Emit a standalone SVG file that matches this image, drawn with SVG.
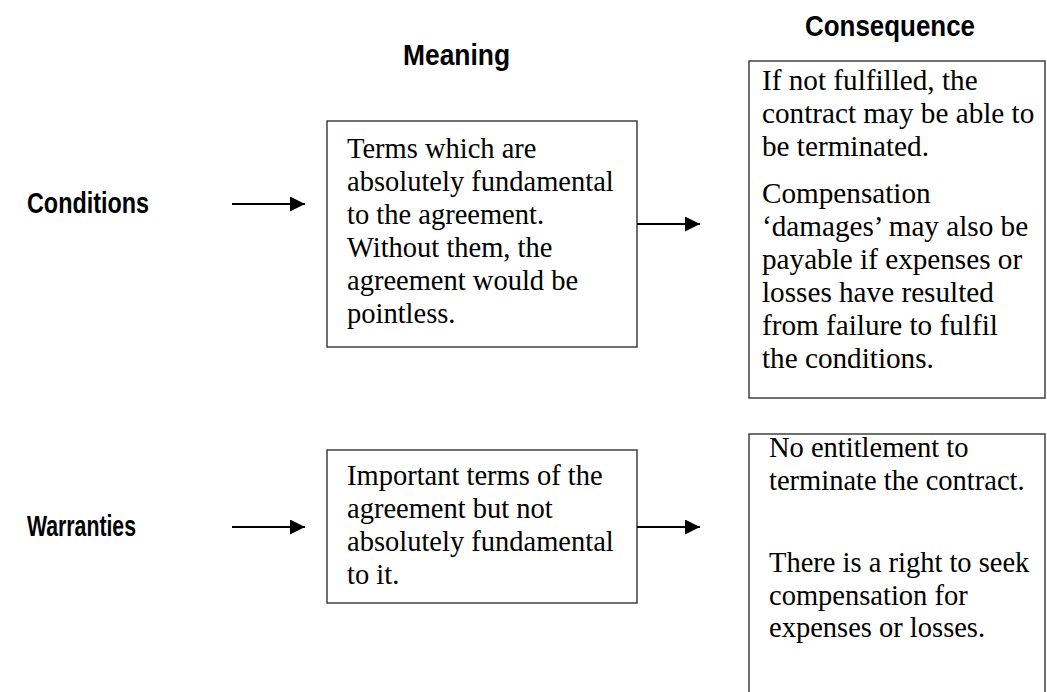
<svg xmlns="http://www.w3.org/2000/svg" width="1047" height="692" viewBox="0 0 1047 692">
<style>
.hd{font-family:"Liberation Sans",Arial,sans-serif;font-weight:bold;font-size:29px;fill:#000}
.tx{font-family:"Liberation Serif","Times New Roman",serif;font-size:28.5px;fill:#000}
.tx2{font-family:"Liberation Serif","Times New Roman",serif;font-size:29.2px;fill:#000}
.box{fill:#fff;stroke:#404040;stroke-width:1.5}
.arr{stroke:#000;stroke-width:2;fill:none;marker-end:url(#ah)}
</style>
<defs>
<marker id="ah" viewBox="0 0 14 14" refX="14" refY="7" markerWidth="15" markerHeight="15" markerUnits="userSpaceOnUse" orient="auto">
<path d="M0,0 L14,7 L0,14 Z" fill="#000"/>
</marker>
</defs>
<rect width="1047" height="692" fill="#fff"/>
<g id="headers">
<text class="hd" x="403" y="65" textLength="107" lengthAdjust="spacingAndGlyphs">Meaning</text>
<text class="hd" x="805" y="36" textLength="170" lengthAdjust="spacingAndGlyphs">Consequence</text>
</g>
<g id="conditions-label"><text class="hd" x="27" y="213" textLength="122" lengthAdjust="spacingAndGlyphs">Conditions</text></g>
<g id="warranties-label"><text class="hd" x="27" y="536" textLength="109" lengthAdjust="spacingAndGlyphs">Warranties</text></g>
<g id="conditions-meaning">
<rect class="box" x="327" y="121" width="310" height="226"/>
<text class="tx" x="347" y="158">Terms which are</text>
<text class="tx" x="347" y="191">absolutely fundamental</text>
<text class="tx" x="347" y="224">to the agreement.</text>
<text class="tx" x="347" y="257">Without them, the</text>
<text class="tx" x="347" y="290">agreement would be</text>
<text class="tx" x="347" y="323">pointless.</text>
</g>
<g id="conditions-consequence">
<rect class="box" x="749" y="61" width="296" height="337"/>
<text class="tx2" x="762" y="90">If not fulfilled, the</text>
<text class="tx2" x="762" y="123">contract may be able to</text>
<text class="tx2" x="762" y="156">be terminated.</text>
<text class="tx2" x="762" y="203">Compensation</text>
<text class="tx2" x="762" y="236">‘damages’ may also be</text>
<text class="tx2" x="762" y="269">payable if expenses or</text>
<text class="tx2" x="762" y="302">losses have resulted</text>
<text class="tx2" x="762" y="335">from failure to fulfil</text>
<text class="tx2" x="762" y="368">the conditions.</text>
</g>
<g id="warranties-meaning">
<rect class="box" x="327" y="450" width="310" height="153"/>
<text class="tx" x="347" y="485">Important terms of the</text>
<text class="tx" x="347" y="518">agreement but not</text>
<text class="tx" x="347" y="551">absolutely fundamental</text>
<text class="tx" x="347" y="584">to it.</text>
</g>
<g id="warranties-consequence">
<rect class="box" x="749" y="434" width="296" height="300"/>
<text class="tx" x="769" y="457">No entitlement to</text>
<text class="tx" x="769" y="490">terminate the contract.</text>
<text class="tx" x="769" y="572">There is a right to seek</text>
<text class="tx" x="769" y="605">compensation for</text>
<text class="tx" x="769" y="637">expenses or losses.</text>
</g>
<g id="connectors">
<line class="arr" x1="232" y1="204" x2="305" y2="204"/>
<line class="arr" x1="637" y1="224" x2="700" y2="224"/>
<line class="arr" x1="232" y1="527" x2="305" y2="527"/>
<line class="arr" x1="637" y1="527" x2="700" y2="527"/>
</g>
</svg>
